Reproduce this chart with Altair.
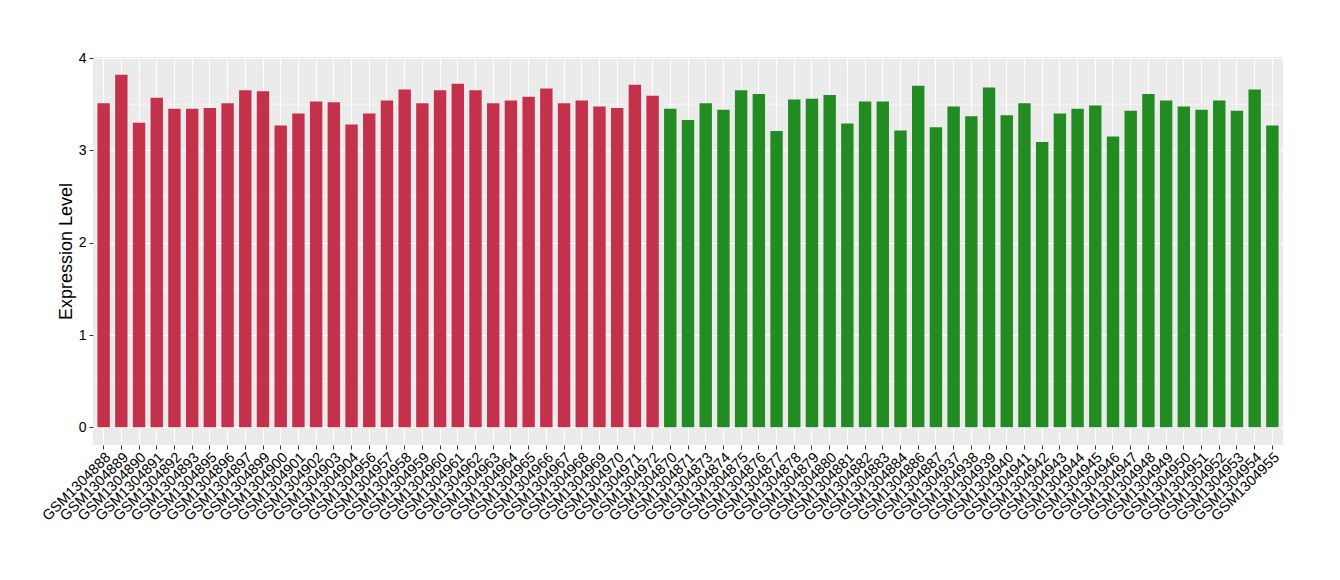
import altair as alt
import pandas as pd

samples_red = [
    "GSM1304888", "GSM1304889", "GSM1304890", "GSM1304891", "GSM1304892",
    "GSM1304893", "GSM1304895", "GSM1304896", "GSM1304897", "GSM1304899",
    "GSM1304900", "GSM1304901", "GSM1304902", "GSM1304903", "GSM1304904",
    "GSM1304956", "GSM1304957", "GSM1304958", "GSM1304959", "GSM1304960",
    "GSM1304961", "GSM1304962", "GSM1304963", "GSM1304964", "GSM1304965",
    "GSM1304966", "GSM1304967", "GSM1304968", "GSM1304969", "GSM1304970",
    "GSM1304971", "GSM1304972",
]
values_red = [
    3.51, 3.82, 3.30, 3.57, 3.45, 3.45, 3.46, 3.51, 3.65, 3.64,
    3.27, 3.40, 3.53, 3.52, 3.28, 3.40, 3.54, 3.66, 3.51, 3.65,
    3.72, 3.65, 3.51, 3.54, 3.58, 3.67, 3.51, 3.54, 3.475, 3.46,
    3.71, 3.59,
]
samples_green = [
    "GSM1304870", "GSM1304871", "GSM1304873", "GSM1304874", "GSM1304875",
    "GSM1304876", "GSM1304877", "GSM1304878", "GSM1304879", "GSM1304880",
    "GSM1304881", "GSM1304882", "GSM1304883", "GSM1304884", "GSM1304886",
    "GSM1304887", "GSM1304937", "GSM1304938", "GSM1304939", "GSM1304940",
    "GSM1304941", "GSM1304942", "GSM1304943", "GSM1304944", "GSM1304945",
    "GSM1304946", "GSM1304947", "GSM1304948", "GSM1304949", "GSM1304950",
    "GSM1304951", "GSM1304952", "GSM1304953", "GSM1304954", "GSM1304955",
]
values_green = [
    3.45, 3.33, 3.51, 3.44, 3.65, 3.61, 3.21, 3.55, 3.56, 3.60,
    3.29, 3.53, 3.53, 3.215, 3.70, 3.25, 3.475, 3.37, 3.68, 3.38,
    3.51, 3.09, 3.40, 3.45, 3.485, 3.15, 3.43, 3.61, 3.54, 3.475,
    3.44, 3.54, 3.43, 3.66, 3.27,
]
minor_grid = [0.5, 1.5, 2.5, 3.5]
y_ticks = [0, 1, 2, 3, 4]

FONT = "Liberation Sans"

df = pd.DataFrame({
    "sample": samples_red + samples_green,
    "value": values_red + values_green,
    "group": ["red"] * len(samples_red) + ["green"] * len(samples_green),
})
order = samples_red + samples_green
grid_df = pd.DataFrame({"g": minor_grid})

y_scale = alt.Scale(domain=[-0.191, 4.011], nice=False, zero=False)

minor = alt.Chart(grid_df).mark_rule(color="white", strokeWidth=0.6).encode(
    y=alt.Y("g:Q", scale=y_scale)
)

bars = alt.Chart(df).mark_bar().encode(
    x=alt.X(
        "sample:N",
        sort=order,
        scale=alt.Scale(paddingInner=0.3, paddingOuter=0.25),
        axis=alt.Axis(
            title=None,
            labelAngle=-45,
            labelAlign="right",
            labelBaseline="top",
            bandPosition=0.5,
            grid=True,
            gridColor="white",
            gridWidth=1.1,
            domain=False,
            tickColor="#333333",
            tickSize=4,
            labelFontSize=14.5,
            labelColor="black",
            labelPadding=1,
            labelFont=FONT,
            labelOverlap=False,
        ),
    ),
    y=alt.Y(
        "value:Q",
        scale=y_scale,
        axis=alt.Axis(
            title="Expression Level",
            values=y_ticks,
            format="d",
            grid=True,
            gridColor="white",
            gridWidth=1.1,
            domain=False,
            tickColor="#333333",
            tickSize=4,
            labelFontSize=14,
            labelColor="black",
            labelPadding=3,
            labelFont=FONT,
            titleFont=FONT,
            titleFontSize=18,
            titleFontWeight="normal",
            titleColor="black",
            titleX=-27,
            titleY=194,
            titleAngle=-90,
            titleAlign="center",
            titleBaseline="middle",
        ),
    ),
    color=alt.Color(
        "group:N",
        scale=alt.Scale(domain=["red", "green"], range=["#C4314B", "#228B22"]),
        legend=None,
    ),
)

chart = alt.layer(minor, bars).properties(
    width=1190,
    height=388,
    autosize=alt.AutoSizeParams(type="none"),
    padding={"left": 85, "top": 49, "right": 49, "bottom": 126},
).configure_view(
    fill="#EBEBEB", stroke=None
)

chart.save("out.html", embed_options={"renderer": "svg", "actions": False})
